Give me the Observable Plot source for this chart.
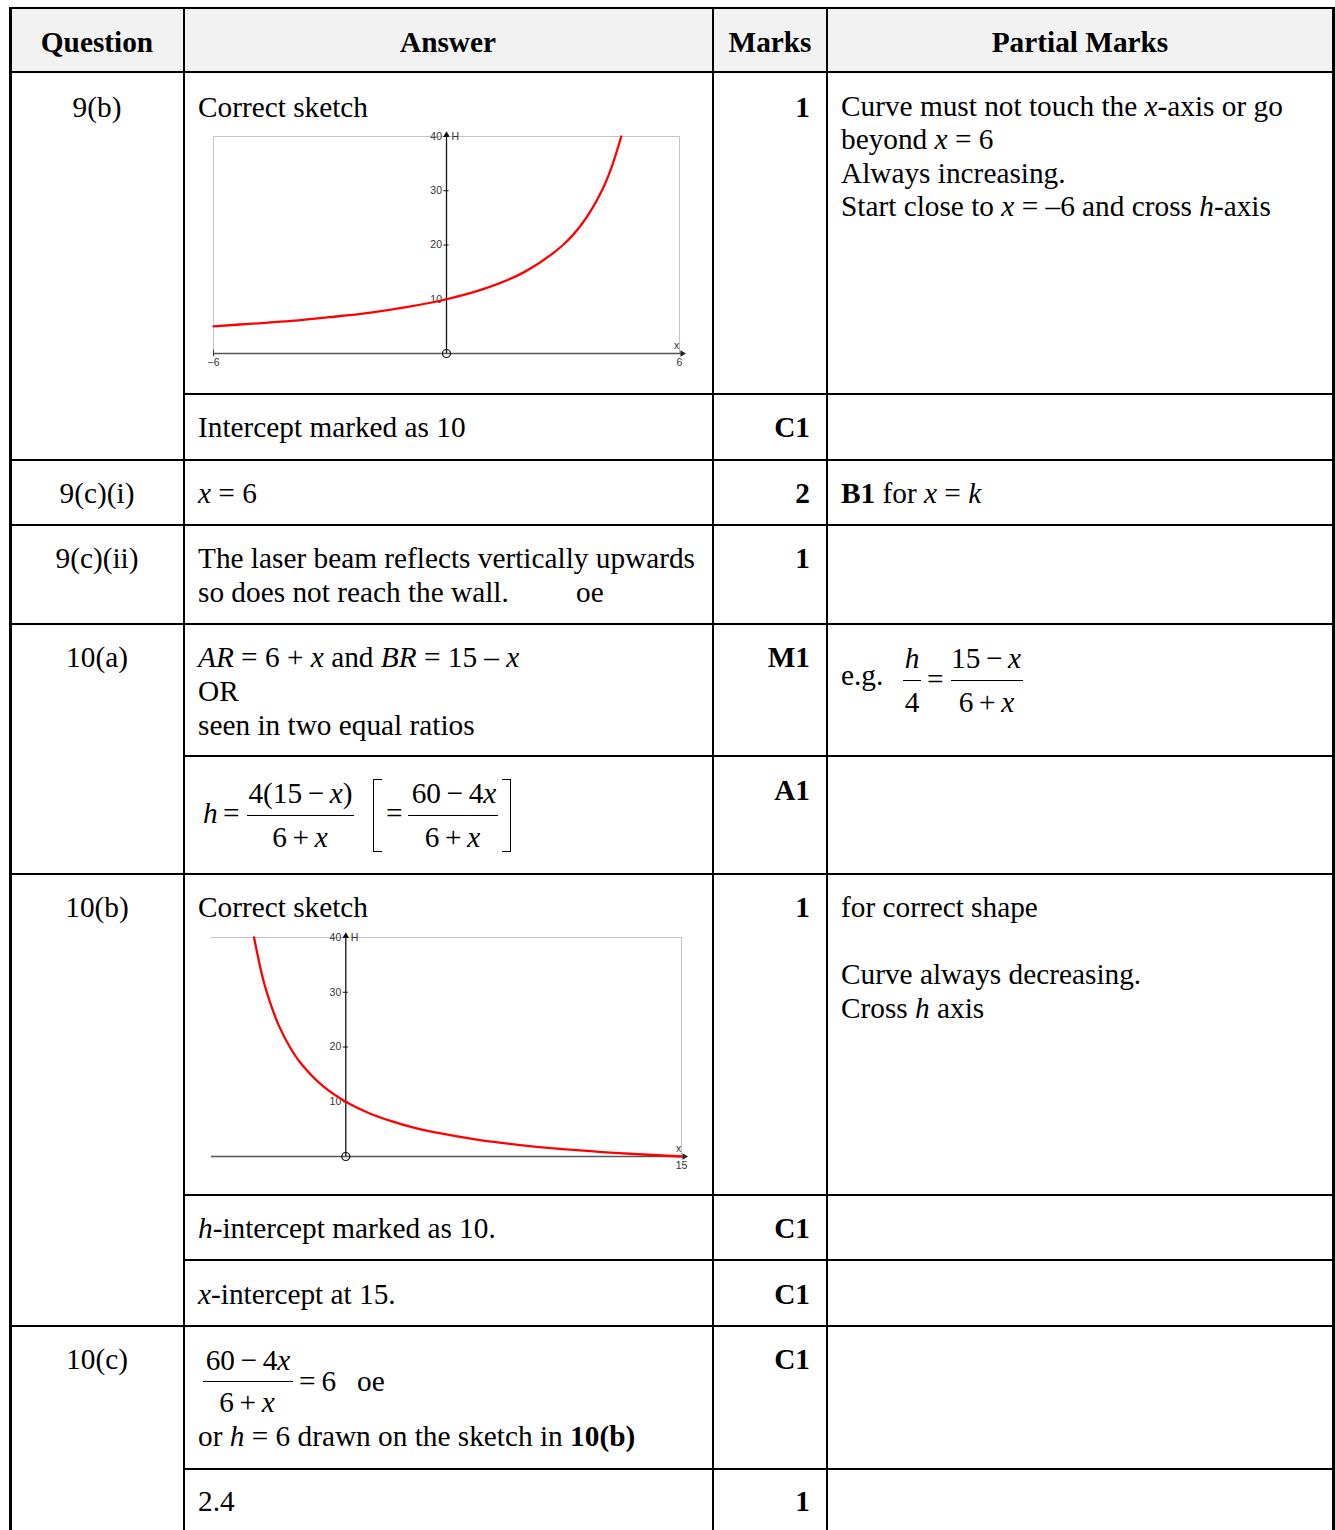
<!DOCTYPE html>
<html>
<head>
<meta charset="utf-8">
<script src="https://cdn.jsdelivr.net/npm/d3@7"></script>
<script src="https://cdn.jsdelivr.net/npm/@observablehq/plot@0.6"></script>
<style>
  html, body { margin: 0; padding: 0; background: #fff; }
  #page { position: relative; width: 1335px; height: 1530px; overflow: hidden;
          font-family: "Liberation Serif", "Times New Roman", serif; font-size: 29.3px; color: #000; }
  .t { position: absolute; white-space: nowrap; line-height: 34px; }
  .c { transform: translateX(-50%); }
  .r { right: 525px; }
  .b { font-weight: bold; }
  .hl { position: absolute; height: 2px; background: #000; }
  .vl { position: absolute; width: 2px; background: #000; top: 7px; height: 1523px; }
  .bar { position: absolute; height: 1.4px; background: #000; }
  .op { margin: 0 0.19em; }
  .chart { position: absolute; }
</style>
</head>
<body>
<div id="page">
  <div style="position:absolute;left:9px;top:7px;width:1325px;height:65px;background:#f2f2f2"></div>

  <!-- grid lines -->
  <div class="hl" style="left:9px;width:1325px;top:7px"></div>
  <div class="hl" style="left:9px;width:1325px;top:71px"></div>
  <div class="hl" style="left:183px;width:1151px;top:393px"></div>
  <div class="hl" style="left:9px;width:1325px;top:459px"></div>
  <div class="hl" style="left:9px;width:1325px;top:524px"></div>
  <div class="hl" style="left:9px;width:1325px;top:623px"></div>
  <div class="hl" style="left:183px;width:1151px;top:755px"></div>
  <div class="hl" style="left:9px;width:1325px;top:873px"></div>
  <div class="hl" style="left:183px;width:1151px;top:1194px"></div>
  <div class="hl" style="left:183px;width:1151px;top:1259px"></div>
  <div class="hl" style="left:9px;width:1325px;top:1325px"></div>
  <div class="hl" style="left:183px;width:1151px;top:1468px"></div>
  <div class="vl" style="left:9px;width:2.5px"></div>
  <div class="vl" style="left:183px"></div>
  <div class="vl" style="left:712px"></div>
  <div class="vl" style="left:826px"></div>
  <div class="vl" style="left:1332px;width:2.5px"></div>

  <!-- header -->
  <div class="t b c" style="left:97px;top:25px">Question</div>
  <div class="t b c" style="left:448px;top:25px">Answer</div>
  <div class="t b c" style="left:770px;top:25px">Marks</div>
  <div class="t b c" style="left:1080px;top:25px">Partial Marks</div>

  <!-- 9(b) -->
  <div class="t c" style="left:97px;top:90px">9(b)</div>
  <div class="t" style="left:198px;top:90px">Correct sketch</div>
  <div class="t b r" style="top:90px">1</div>
  <div class="t" style="left:841px;top:90px;line-height:33.4px">Curve must not touch the <i>x</i>-axis or go<br>beyond <i>x</i> = 6<br>Always increasing.<br>Start close to <i>x</i> = –6 and cross <i>h</i>-axis</div>
  <div id="chart1" class="chart" style="left:193px;top:120px"></div>

  <div class="t" style="left:198px;top:410px">Intercept marked as 10</div>
  <div class="t b r" style="top:410px">C1</div>

  <!-- 9(c)(i) -->
  <div class="t c" style="left:97px;top:476px">9(c)(i)</div>
  <div class="t" style="left:198px;top:476px"><i>x</i> = 6</div>
  <div class="t b r" style="top:476px">2</div>
  <div class="t" style="left:841px;top:476px"><b>B1</b> for <i>x</i> = <i>k</i></div>

  <!-- 9(c)(ii) -->
  <div class="t c" style="left:97px;top:541px">9(c)(ii)</div>
  <div class="t" style="left:198px;top:541px">The laser beam reflects vertically upwards<br>so does not reach the wall.</div>
  <div class="t" style="left:576px;top:575px">oe</div>
  <div class="t b r" style="top:541px">1</div>

  <!-- 10(a) -->
  <div class="t c" style="left:97px;top:640px">10(a)</div>
  <div class="t" style="left:198px;top:640px"><i>AR</i> = 6 + <i>x</i> and <i>BR</i> = 15 – <i>x</i><br>OR<br>seen in two equal ratios</div>
  <div class="t b r" style="top:640px">M1</div>
  <div class="t" style="left:841px;top:658px">e.g.</div>
  <div class="t c" style="left:912px;top:641px"><i>h</i></div>
  <div class="bar" style="left:903px;width:18px;top:680px"></div>
  <div class="t c" style="left:912px;top:685px">4</div>
  <div class="t" style="left:927px;top:662px">=</div>
  <div class="t c" style="left:986px;top:641px">15<span class="op">−</span><i>x</i></div>
  <div class="bar" style="left:951px;width:72px;top:680px"></div>
  <div class="t c" style="left:986.5px;top:685px">6<span class="op">+</span><i>x</i></div>

  <div class="t b r" style="top:773px">A1</div>
  <div class="t" style="left:203px;top:796px"><i>h</i></div>
  <div class="t" style="left:223px;top:796px">=</div>
  <div class="t c" style="left:300.5px;top:776px">4(15<span class="op">−</span><i>x</i>)</div>
  <div class="bar" style="left:247px;width:107px;top:814.5px"></div>
  <div class="t c" style="left:300px;top:820px">6<span class="op">+</span><i>x</i></div>
  <div style="position:absolute;left:373px;top:779px;width:8px;height:71px;border:1.5px solid #000;border-right:none"></div>
  <div class="t" style="left:386px;top:796px">=</div>
  <div class="t c" style="left:454px;top:776px">60<span class="op">−</span>4<i>x</i></div>
  <div class="bar" style="left:408px;width:90px;top:814.5px"></div>
  <div class="t c" style="left:452.5px;top:820px">6<span class="op">+</span><i>x</i></div>
  <div style="position:absolute;left:502px;top:779px;width:8px;height:71px;border:1.5px solid #000;border-left:none"></div>

  <!-- 10(b) -->
  <div class="t c" style="left:97px;top:890px">10(b)</div>
  <div class="t" style="left:198px;top:890px">Correct sketch</div>
  <div class="t b r" style="top:890px">1</div>
  <div class="t" style="left:841px;top:890px">for correct shape</div>
  <div class="t" style="left:841px;top:957px">Curve always decreasing.</div>
  <div class="t" style="left:841px;top:991px">Cross <i>h</i> axis</div>
  <div id="chart2" class="chart" style="left:191px;top:920px"></div>

  <div class="t" style="left:198px;top:1211px"><i>h</i>-intercept marked as 10.</div>
  <div class="t b r" style="top:1211px">C1</div>
  <div class="t" style="left:198px;top:1277px"><i>x</i>-intercept at 15.</div>
  <div class="t b r" style="top:1277px">C1</div>

  <!-- 10(c) -->
  <div class="t c" style="left:97px;top:1342px">10(c)</div>
  <div class="t b r" style="top:1342px">C1</div>
  <div class="t c" style="left:248px;top:1343px">60<span class="op">−</span>4<i>x</i></div>
  <div class="bar" style="left:202.5px;width:90px;top:1381px"></div>
  <div class="t c" style="left:247px;top:1385px">6<span class="op">+</span><i>x</i></div>
  <div class="t" style="left:299px;top:1364px">=<span style="margin-left:6px">6</span></div>
  <div class="t" style="left:357px;top:1364px">oe</div>
  <div class="t" style="left:198px;top:1419px">or <i>h</i> = 6 drawn on the sketch in <b>10(b)</b></div>
  <div class="t" style="left:198px;top:1484px">2.4</div>
  <div class="t b r" style="top:1484px">1</div>
</div>

<script>
// ---- chart data ----
const hTicks = [10, 20, 30, 40];

// 9(b) sketch: increasing curve
const sketch1X = [-6, -5, -4, -3, -2, -1, 0, 1, 2, 3, 3.5, 4, 4.25, 4.5];
const sketch1H = [5, 5.5, 6, 6.7, 7.5, 8.6, 10, 12, 15, 20, 24, 30, 34.3, 40];
const sketch1XLabels = ["−6", "6"];
const sketch1XLabelAt = [-6, 6];

// 10(b) sketch: decreasing curve
const sketch2X = [-4.1, -4, -3.75, -3.5, -3, -2.5, -2, -1, 0, 1, 2, 3, 4, 6, 8, 10, 12, 15];
const sketch2H = [40, 38, 33.3, 29.6, 24, 20, 17, 12.8, 10, 8, 6.5, 5.3, 4.4, 3, 2, 1.25, 0.67, 0];
const sketch2XLabels = ["15"];
const sketch2XLabelAt = [15];

function sketch({xDomain, xs, hs, labels, labelAt, leftBorder, width, height, margins}) {
  const data = xs.map((x, i) => ({x, h: hs[i]}));
  const [x0, x1] = xDomain;
  const span = x1 - x0;
  const tickHalf = span * 0.0055;
  const lab = labels.map((t, i) => ({t, x: labelAt[i]}));
  return Plot.plot({
    width, height,
    marginLeft: margins[0], marginRight: margins[1], marginTop: margins[2], marginBottom: margins[3],
    x: {domain: xDomain, axis: null},
    y: {domain: [0, 40], axis: null},
    style: {fontFamily: "'Liberation Sans', Arial, sans-serif", fontSize: "10px", background: "transparent", overflow: "visible", color: "#222"},
    marks: [
      Plot.ruleY([40], {x1: x0, x2: x1, stroke: "#c4c4c4", strokeWidth: 1}),
      Plot.ruleX(leftBorder ? [x0, x1] : [x1], {y1: 0, y2: 40, stroke: "#c4c4c4", strokeWidth: 1}),
      Plot.ruleY([0], {x1: x0, x2: x1 + span * 0.004, stroke: "#555", strokeWidth: 1.5}),
      Plot.dot([{x: x1 + span * 0.006, y: 0}], {x: "x", y: "y", symbol: "triangle", r: 2.4, rotate: 90, fill: "#222", stroke: null}),
      Plot.ruleX([0], {y1: 0, y2: 40.2, stroke: "#111", strokeWidth: 1.3}),
      Plot.dot([{x: 0, y: 40.3}], {x: "x", y: "y", symbol: "triangle", r: 2.4, fill: "#111", stroke: null}),
      Plot.ruleY(hTicks, {y: d => d, x1: -tickHalf, x2: tickHalf, stroke: "#111", strokeWidth: 1}),
      leftBorder ? Plot.ruleX([x0], {y1: -0.6, y2: 0.6, stroke: "#333", strokeWidth: 1}) : null,
      Plot.text(hTicks, {x: 0, y: d => d, text: d => String(d), textAnchor: "end", dx: -4.5, fill: "#333", fontSize: 10.5}),
      Plot.text(["H"], {x: 0, y: 40, text: d => d, textAnchor: "start", dx: 5, fill: "#333", fontSize: 10.5}),
      Plot.text(["x"], {x: x1, y: 0, text: d => d, textAnchor: "middle", dx: -3, dy: -7.5, fill: "#333", fontSize: 10.5}),
      Plot.text(lab, {x: "x", y: 0, text: "t", textAnchor: "middle", dy: 9.5, fill: "#333", fontSize: 10.5}),
      Plot.dot([{x: 0, y: 0}], {x: "x", y: "y", r: 4, stroke: "#111", strokeWidth: 1.2, fill: "none"}),
      Plot.line(data, {x: "x", y: "h", stroke: "#ff0000", strokeWidth: 2.3, curve: "catmull-rom"})
    ]
  });
}

document.getElementById("chart1").append(sketch({
  xDomain: [-6, 6], xs: sketch1X, hs: sketch1H,
  labels: sketch1XLabels, labelAt: sketch1XLabelAt, leftBorder: true,
  width: 500, height: 260, margins: [20, 14, 16, 27]
}));
document.getElementById("chart2").append(sketch({
  xDomain: [-6, 15], xs: sketch2X, hs: sketch2H,
  labels: sketch2XLabels, labelAt: sketch2XLabelAt, leftBorder: false,
  width: 505, height: 262, margins: [20, 15, 17, 26]
}));
</script>
</body>
</html>
